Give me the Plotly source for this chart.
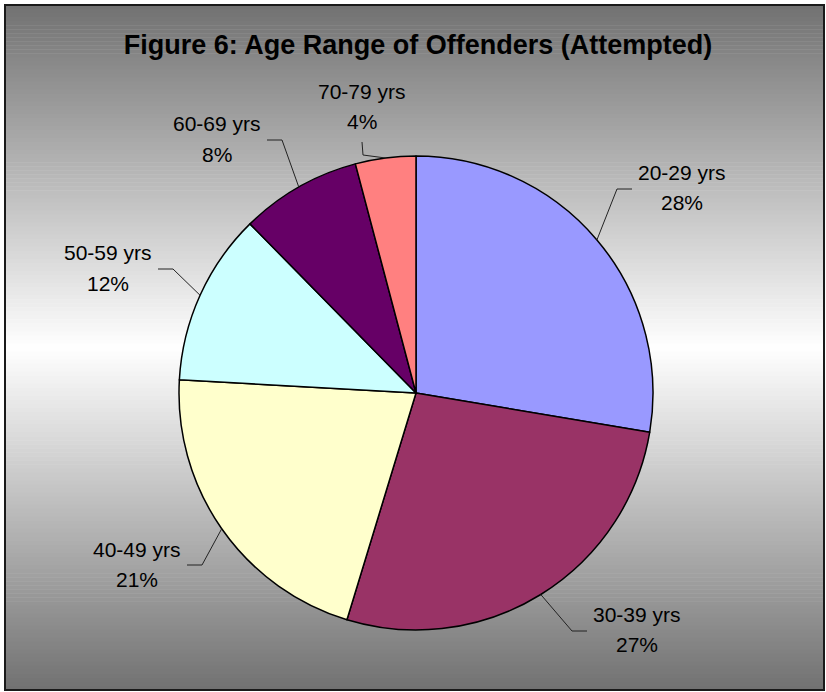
import math
import plotly.graph_objects as go

# chart data (counts estimated so that the slices and the rounded % labels both match)
age_groups = ["20-29 yrs", "30-39 yrs", "40-49 yrs", "50-59 yrs", "60-69 yrs", "70-79 yrs"]
offender_counts = [47, 46, 36, 20, 14, 7]
slice_colors = ["#9999FF", "#993366", "#FFFFCC", "#CCFFFF", "#660066", "#FF8080"]

# page geometry (pixels)
W, H = 826, 692
CX, CY, R = 416, 393, 237
FRAME = (5, 5, 824, 690)

# label centres (pixels) and which side the leader line leaves from
label_pos = [(682, 187), (637, 629), (137, 564), (108, 268), (217, 139), (362, 107)]
label_side = ["right", "right", "left", "left", "left", "top"]
LINE_GAP = 15  # half the distance between the two text lines
FONT = "Liberation Sans, Arial, sans-serif"


def px(x):
    return x / W


def py(y):
    return 1 - y / H


fig = go.Figure()

fig.add_trace(go.Pie(
    labels=age_groups,
    values=offender_counts,
    sort=False,
    direction="clockwise",
    rotation=0,
    marker=dict(colors=slice_colors, line=dict(color="black", width=1.5)),
    textinfo="none",
    hovertemplate="%{label}: %{percent:.0%}<extra></extra>",
    showlegend=False,
    domain=dict(x=[px(CX - R), px(CX + R)], y=[py(CY + R), py(CY - R)]),
))

shapes = []

# grey -> white -> grey background inside the frame
x0, y0, x1, y1 = FRAME
n_strips = 170
step = (y1 - y0) / n_strips
mid = (y0 + y1) / 2
for k in range(n_strips):
    ya = y0 + k * step
    yc = ya + step / 2
    t = abs(yc - mid) / (mid - y0)
    g = int(round(255 - 142 * t))
    shapes.append(dict(
        type="rect", xref="paper", yref="paper", layer="below",
        x0=px(x0), x1=px(x1), y0=py(ya + step + 0.5), y1=py(ya),
        line=dict(width=0), fillcolor=f"rgb({g},{g},{g})",
    ))

shapes.append(dict(
    type="rect", xref="paper", yref="paper", layer="below",
    x0=px(x0), x1=px(x1), y0=py(y1), y1=py(y0),
    line=dict(color="#1a1a1a", width=2), fillcolor="rgba(0,0,0,0)",
))

# labels + leader lines
annotations = []
total = sum(offender_counts)
cum = 0
half_w = 47
for name, cnt, (lx, ly), side in zip(age_groups, offender_counts, label_pos, label_side):
    mid_ang = math.radians((cum + cnt / 2) / total * 360)
    cum += cnt
    pct = round(cnt / total * 100)
    ex = CX + R * math.sin(mid_ang)
    ey = CY - R * math.cos(mid_ang)
    if side == "right":
        sx, sy = lx - half_w - 3, ly + 2
        bx, by = sx - 15, sy
    elif side == "left":
        sx, sy = lx + half_w + 3, ly + 1
        bx, by = sx + 15, sy
    else:
        sx, sy = lx, ly + 35
        bx, by = sx + 1, sy + 13
    path = f"M {px(sx)},{py(sy)} L {px(bx)},{py(by)} L {px(ex)},{py(ey)}"
    shapes.append(dict(type="path", xref="paper", yref="paper", path=path,
                       line=dict(color="#222222", width=1)))
    for txt, dy in ((name, -LINE_GAP), (f"{pct}%", LINE_GAP)):
        annotations.append(dict(
            x=px(lx), y=py(ly + dy), xref="paper", yref="paper",
            text=txt, showarrow=False,
            xanchor="center", yanchor="middle", align="center",
            font=dict(family=FONT, size=21, color="black"),
        ))

fig.update_layout(
    title=dict(
        text="<b>Figure 6: Age Range of Offenders (Attempted)</b>",
        x=418 / W, y=py(45), xanchor="center", yanchor="middle",
        font=dict(family=FONT, size=27, color="black"),
    ),
    width=W,
    height=H,
    margin=dict(l=0, r=0, t=0, b=0),
    paper_bgcolor="white",
    plot_bgcolor="white",
    shapes=shapes,
    annotations=annotations,
)

fig.write_html("out.html", config={"displayModeBar": False},
               post_script="document.body.style.margin='0';")
